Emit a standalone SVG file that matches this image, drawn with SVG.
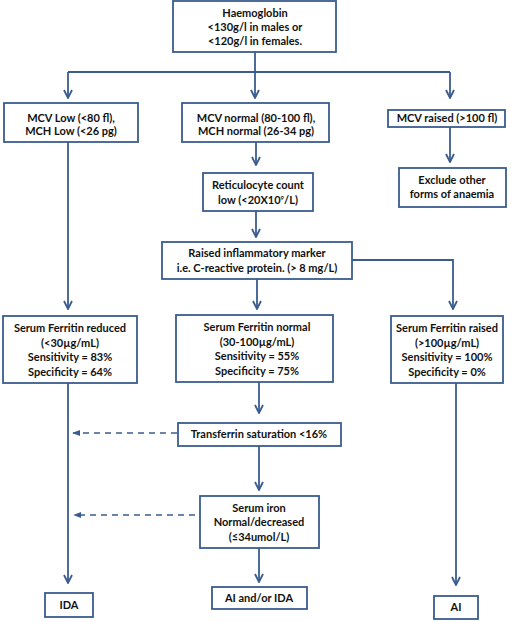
<svg xmlns="http://www.w3.org/2000/svg" width="520" height="622" viewBox="0 0 520 622">
<defs>
<style>
.box{fill:#fff;stroke:#3a5c8e;stroke-width:1.8}
.ln{fill:none;stroke:#3a5c8e;stroke-width:1.8}
.dash{fill:none;stroke:#3a5c8e;stroke-width:1.6;stroke-dasharray:6,5}
text{font-family:Lato,"Liberation Sans",sans-serif;font-weight:bold;font-size:11px;fill:#111;text-anchor:middle}
</style>
<marker id="v" viewBox="0 0 10 10" refX="9" refY="5" markerWidth="10" markerHeight="10" markerUnits="userSpaceOnUse" orient="auto">
<path d="M1,1 L9,5 L1,9" fill="none" stroke="#3a5c8e" stroke-width="1.8"/>
</marker>
<marker id="t" viewBox="0 0 10 10" refX="9" refY="5" markerWidth="8" markerHeight="8" markerUnits="userSpaceOnUse" orient="auto">
<path d="M0,1 L10,5 L0,9 Z" fill="#3a5c8e"/>
</marker>
</defs>
<rect width="520" height="622" fill="#fff"/>
<g id="connectors">
<path class="ln" d="M255,52 V72"/>
<path class="ln" d="M68,72 H450"/>
<path class="ln" d="M68,72 V98" marker-end="url(#v)"/>
<path class="ln" d="M255,72 V98" marker-end="url(#v)"/>
<path class="ln" d="M450,72 V98" marker-end="url(#v)"/>
<path class="ln" d="M256,142 V165" marker-end="url(#v)"/>
<path class="ln" d="M450,127 V162" marker-end="url(#v)"/>
<path class="ln" d="M256,211 V237" marker-end="url(#v)"/>
<path class="ln" d="M68,142 V309" marker-end="url(#v)"/>
<path class="ln" d="M257,279 V309" marker-end="url(#v)"/>
<path class="ln" d="M352,260 H453 V309" marker-end="url(#v)"/>
<path class="ln" d="M68,383 V583" marker-end="url(#v)"/>
<path class="ln" d="M259,382 V413" marker-end="url(#v)"/>
<path class="ln" d="M456,383 V585" marker-end="url(#v)"/>
<path class="ln" d="M259,446 V490" marker-end="url(#v)"/>
<path class="ln" d="M259,548 V582" marker-end="url(#v)"/>
<path class="dash" d="M177,433 H73" marker-end="url(#t)"/>
<path class="dash" d="M195,515 H74" marker-end="url(#t)"/>
</g>
<g id="hb"><rect class="box" x="173" y="1" width="163" height="51"/>
<text x="255" y="17">Haemoglobin</text><text x="255" y="31">&lt;130g/l in males or</text><text x="255" y="45">&lt;120g/l in females.</text></g>
<g id="mcvlow"><rect class="box" x="4" y="103" width="134" height="39"/>
<text x="71" y="122">MCV Low (&lt;80 fl),</text><text x="71" y="135">MCH Low (&lt;26 pg)</text></g>
<g id="mcvnormal"><rect class="box" x="182" y="103" width="147" height="39"/>
<text x="256" y="122">MCV normal (80-100 fl),</text><text x="256" y="135">MCH normal (26-34 pg)</text></g>
<g id="mcvraised"><rect class="box" x="388" y="110" width="117" height="17"/>
<text x="447" y="122">MCV raised (&gt;100 fl)</text></g>
<g id="retic"><rect class="box" x="203" y="173" width="110" height="38"/>
<text x="258" y="189">Reticulocyte count</text><text x="258" y="204">low (&lt;20X10<tspan font-size="6" dy="-4">9</tspan><tspan dy="4">/L)</tspan></text></g>
<g id="exclude"><rect class="box" x="399" y="168" width="107" height="39"/>
<text x="452" y="184">Exclude other</text><text x="452" y="198">forms of anaemia</text></g>
<g id="crp"><rect class="box" x="162" y="242" width="190" height="37"/>
<text x="257" y="257">Raised inflammatory marker</text><text x="257" y="272">i.e. C-reactive protein. (&gt; 8 mg/L)</text></g>
<g id="ferrlow"><rect class="box" x="3" y="316" width="134" height="67"/>
<text x="70" y="332">Serum Ferritin reduced</text><text x="70" y="347">(&lt;30µg/mL)</text><text x="70" y="361">Sensitivity = 83%</text><text x="70" y="376">Specificity = 64%</text></g>
<g id="ferrnorm"><rect class="box" x="176" y="315" width="157" height="67"/>
<text x="257" y="331">Serum Ferritin normal</text><text x="257" y="346">(30-100µg/mL)</text><text x="257" y="360">Sensitivity = 55%</text><text x="257" y="375">Specificity = 75%</text></g>
<g id="ferrhigh"><rect class="box" x="391" y="316" width="112" height="67"/>
<text x="447" y="332">Serum Ferritin raised</text><text x="447" y="347">(&gt;100µg/mL)</text><text x="447" y="361">Sensitivity = 100%</text><text x="447" y="376">Specificity = 0%</text></g>
<g id="tsat"><rect class="box" x="178" y="423" width="163" height="23"/>
<text x="259" y="438">Transferrin saturation &lt;16%</text></g>
<g id="iron"><rect class="box" x="200" y="496" width="119" height="52"/>
<text x="259" y="512">Serum iron</text><text x="259" y="526">Normal/decreased</text><text x="259" y="541">(≤34umol/L)</text></g>
<g id="ida"><rect class="box" x="45" y="593" width="48" height="24"/><text x="69" y="609">IDA</text></g>
<g id="aiida"><rect class="box" x="212" y="587" width="95" height="22"/><text x="259" y="602">AI and/or IDA</text></g>
<g id="ai"><rect class="box" x="434" y="596" width="44" height="23"/><text x="456" y="611">AI</text></g>
</svg>
